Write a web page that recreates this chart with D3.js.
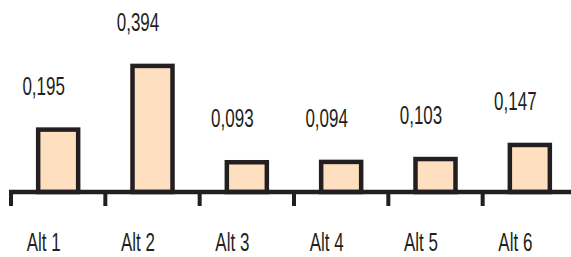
<!doctype html>
<meta charset='utf-8'>
<title>alt chart</title>
<style type="text/css">
	body { margin:0; background:white; }
	svg { display:block; }
	text {
		font-family:'Liberation Sans','Noto Sans',sans-serif;
		fill:#231f20;
	}
</style>
<div id='container'></div>
<script src="https://cdnjs.cloudflare.com/ajax/libs/d3/7.8.5/d3.min.js" charset="utf-8"></script>
<script>

	var categories = ['Alt 1','Alt 2','Alt 3','Alt 4','Alt 5','Alt 6']
	var values = [0.195, 0.394, 0.093, 0.094, 0.103, 0.147]
	var valueLabels = ['0,195','0,394','0,093','0,094','0,103','0,147']

	var W = 571, H = 257
	var base = 192

	var svg = d3.select('#container').append('svg')
		.attr('width', W)
		.attr('height', H)

	var x = d3.scaleBand()
		.domain(categories)
		.range([11, 577])
		.paddingInner(0)

	var y = d3.scaleLinear()
		.domain([0, 0.4])
		.range([base, base - 128])

	var barW = 40
	var ink = '#231f20'

	// bars
	svg.selectAll('rect.bar')
		.data(values)
		.enter().append('rect')
		.attr('class', 'bar')
		.attr('x', function(d, i){ return x(categories[i]) + x.bandwidth()/2 - barW/2 })
		.attr('y', function(d){ return y(d) })
		.attr('width', barW)
		.attr('height', function(d){ return base - y(d) })
		.style('fill', '#fee0c1')
		.style('stroke', ink)
		.style('stroke-width', '4.5px')

	// axis with ticks at band edges
	var edges = categories.map(function(c){ return x(c) }).concat([x.range()[1]])
	svg.append('line')
		.attr('x1', 9).attr('x2', W)
		.attr('y1', base).attr('y2', base)
		.style('stroke', ink).style('stroke-width', '4.5px')
	svg.selectAll('line.tick')
		.data(edges)
		.enter().append('line')
		.attr('class', 'tick')
		.attr('x1', function(d){ return d }).attr('x2', function(d){ return d })
		.attr('y1', base).attr('y2', base + 14)
		.style('stroke', ink).style('stroke-width', '4px')

	// narrow text: the original face is a condensed one
	var labelShift = -14.5
	function narrow(cx, cy) {
		return 'translate(' + cx + ',' + cy + ') scale(0.68,1)'
	}

	// value labels
	svg.selectAll('text.val')
		.data(values)
		.enter().append('text')
		.attr('class', 'val')
		.attr('transform', function(d, i){
			return narrow(x(categories[i]) + x.bandwidth()/2 + labelShift, y(d) - 35)
		})
		.attr('text-anchor', 'middle')
		.style('font-size', '25px')
		.text(function(d, i){ return valueLabels[i] })

	// category labels
	svg.selectAll('text.cat')
		.data(categories)
		.enter().append('text')
		.attr('class', 'cat')
		.attr('transform', function(d){
			return narrow(x(d) + x.bandwidth()/2 + labelShift, 251)
		})
		.attr('text-anchor', 'middle')
		.style('font-size', '25px')
		.text(function(d){ return d })

</script>
